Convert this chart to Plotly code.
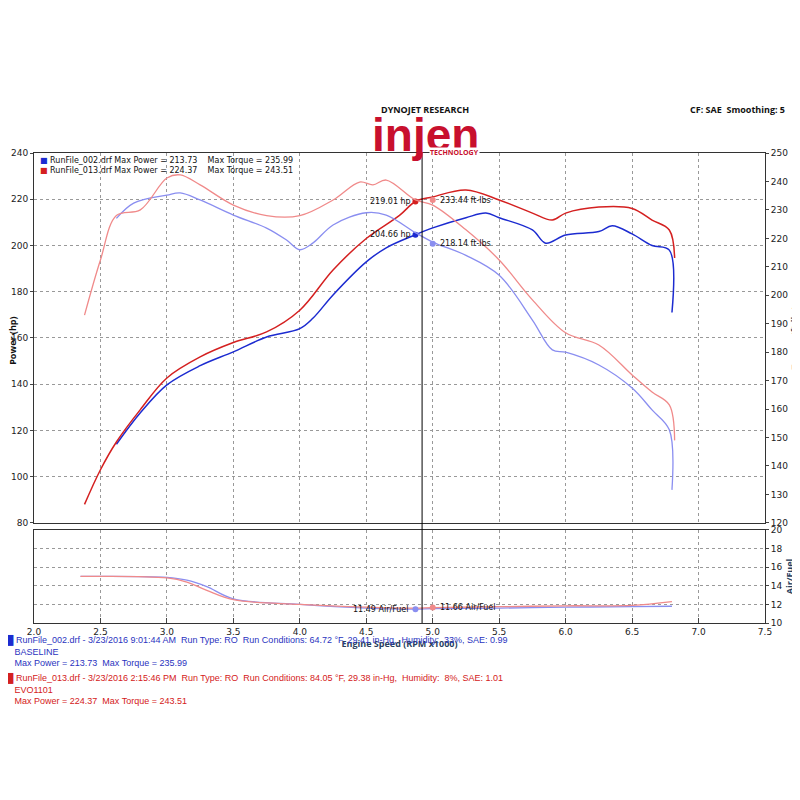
import plotly.graph_objects as go

# run 002 (baseline) power / torque
base_rpm = [2.62, 2.8, 3.0, 3.25, 3.5, 3.75, 4.0, 4.1, 4.25, 4.5, 4.65, 4.87, 5.0, 5.25, 5.4, 5.5, 5.75, 5.85, 6.0, 6.25, 6.35, 6.5, 6.65, 6.78, 6.8]
base_hp = [114, 127.6, 139.7, 148, 154, 160.4, 164, 168.6, 178.6, 192.9, 199, 204.66, 207.6, 212, 214, 212, 206.7, 201, 204.5, 206, 208.5, 205, 200, 198, 171]
base_tq_rpm = [2.62, 2.75, 3.0, 3.1, 3.25, 3.5, 3.75, 3.9, 4.0, 4.1, 4.25, 4.5, 4.65, 4.87, 5.0, 5.25, 5.5, 5.75, 5.9, 6.0, 6.25, 6.5, 6.65, 6.78, 6.8]
base_tq = [227, 232.4, 235.2, 236, 233.5, 228.2, 223.6, 219.4, 216, 218.4, 224.7, 229, 228.2, 222, 218.7, 214, 207, 191.3, 180.8, 180, 175.5, 167.4, 159.7, 152.7, 131.6]

# run 013 (EVO1101) power / torque
evo_rpm = [2.38, 2.5, 2.62, 2.8, 3.0, 3.25, 3.5, 3.75, 4.0, 4.25, 4.5, 4.75, 4.87, 5.0, 5.25, 5.5, 5.75, 5.9, 6.0, 6.25, 6.5, 6.65, 6.78, 6.82]
evo_hp = [88, 103, 115, 129, 142.7, 151.8, 158, 162.6, 172, 189.4, 203, 213, 219.01, 221, 224, 219.7, 214, 211, 214, 216.6, 216, 211, 206.7, 194.6]
evo_tq_rpm = [2.38, 2.5, 2.62, 2.8, 3.0, 3.1, 3.25, 3.5, 3.75, 4.0, 4.25, 4.45, 4.55, 4.65, 4.87, 5.0, 5.25, 5.5, 5.75, 6.0, 6.25, 6.5, 6.65, 6.78, 6.82]
evo_tq = [193, 212.4, 228, 230, 241.2, 242.3, 238.8, 231.7, 228, 228, 233.5, 239.8, 238.8, 240.5, 233.5, 231.7, 223, 212.4, 198.4, 186.8, 182.5, 172, 166, 161.5, 149]

# air/fuel
afr_rpm = [2.35, 3.0, 3.15, 3.3, 3.5, 4.0, 4.5, 4.87, 5.0, 5.5, 6.0, 6.5, 6.8]
base_afr = [15.0, 14.9, 14.6, 13.9, 12.6, 12.0, 11.6, 11.49, 11.55, 11.6, 11.7, 11.75, 11.8]
evo_afr = [15.0, 14.85, 14.4, 13.5, 12.5, 12.0, 11.7, 11.6, 11.66, 11.75, 11.85, 11.9, 12.3]

# cursor readings
cur_hp_rpm = [4.87, 4.87]
cur_hp = [204.66, 219.01]
cur_tq_rpm = [5.0, 5.0]
cur_tq = [218.14, 233.44]
cur_afr_rpm = [4.87, 5.0]
cur_afr = [11.49, 11.66]

x_ticks = [2.0, 2.5, 3.0, 3.5, 4.0, 4.5, 5.0, 5.5, 6.0, 6.5, 7.0, 7.5]

BLUE, RED = "#1c2bd0", "#d42020"
LBLUE, LRED = "#8a8ef0", "#f08a8a"


def line(x, y, c, w, **kw):
    return go.Scatter(x=x, y=y, mode="lines", line=dict(color=c, width=w, shape="spline"), **kw)


fig = go.Figure()
fig.add_trace(line(base_tq_rpm, base_tq, LBLUE, 1.3, yaxis="y2"))
fig.add_trace(line(evo_tq_rpm, evo_tq, LRED, 1.3, yaxis="y2"))
fig.add_trace(line(base_rpm, base_hp, BLUE, 1.5))
fig.add_trace(line(evo_rpm, evo_hp, RED, 1.5))
fig.add_trace(line(afr_rpm, base_afr, LBLUE, 1.3, xaxis="x2", yaxis="y3"))
fig.add_trace(line(afr_rpm, evo_afr, LRED, 1.3, xaxis="x2", yaxis="y3"))

fig.add_trace(go.Scatter(x=cur_hp_rpm, y=cur_hp, mode="markers", marker=dict(size=6, color=[BLUE, RED])))
fig.add_trace(go.Scatter(x=cur_tq_rpm, y=cur_tq, yaxis="y2", mode="markers", marker=dict(size=6, color=[LBLUE, LRED])))
fig.add_trace(go.Scatter(x=cur_afr_rpm, y=cur_afr, xaxis="x2", yaxis="y3", mode="markers",
                         marker=dict(size=6, color=[LBLUE, LRED])))

grid = dict(showgrid=True, gridcolor="#999", griddash="dot", gridwidth=1)
tickf = dict(size=9, family="DejaVu Sans", color="#222")
fig.update_layout(
    width=800, height=800, showlegend=False, plot_bgcolor="white", paper_bgcolor="white",
    margin=dict(l=26, r=43, t=145, b=185),
    xaxis=dict(range=[2.0, 7.5], domain=[0, 1], tickvals=x_ticks, showticklabels=False, anchor="y",
               showline=True, linecolor="#333", mirror=True, **grid),
    yaxis=dict(range=[80, 240], domain=[0.213, 1], dtick=20, tickfont=tickf, showline=True, linecolor="#333",
               mirror=True, ticks="outside", ticklen=3, automargin=False, **grid),
    yaxis2=dict(range=[120, 250], overlaying="y", side="right", dtick=10, tickfont=tickf, showgrid=False,
                ticks="outside", ticklen=3, automargin=False,
                title=dict(text="<b>Torque (ft-lbs)</b>", font=dict(size=9), standoff=0)),
    xaxis2=dict(range=[2.0, 7.5], domain=[0, 1], anchor="y3", tickvals=x_ticks, tickformat=".1f",
                tickfont=tickf, showline=True, linecolor="#333", mirror=True, ticks="inside", automargin=False, **grid,
                title=dict(text="<b>Engine Speed (RPM x1000)</b>", font=dict(size=9), standoff=0)),
    yaxis3=dict(range=[10, 20], domain=[0, 0.198], side="right", anchor="x2", dtick=2, tickfont=tickf,
                showline=True, linecolor="#333", mirror=True, ticks="outside", ticklen=3, automargin=False, **grid,
                title=dict(text="<b>Air/Fuel</b>", font=dict(size=9), standoff=0)),
)
fig.add_annotation(x=-0.042, y=0.6, xref="paper", yref="paper", text="<b>Power (hp)</b>", textangle=-90,
                   showarrow=False, font=dict(size=9, color="#111"))

# cursor line
fig.add_shape(type="line", xref="x", yref="paper", x0=4.92, x1=4.92, y0=0, y1=1.0, line=dict(color="black", width=1))

lab = dict(size=8, color="#111", family="DejaVu Sans")
fig.add_annotation(x=4.85, y=219.01, text="219.01 hp", showarrow=False, xanchor="right", font=lab)
fig.add_annotation(x=4.85, y=204.66, text="204.66 hp", showarrow=False, xanchor="right", font=lab)
fig.add_annotation(x=5.04, y=233.44, yref="y2", text="233.44 ft-lbs", showarrow=False, xanchor="left", font=lab)
fig.add_annotation(x=5.04, y=218.14, yref="y2", text="218.14 ft-lbs", showarrow=False, xanchor="left", font=lab)
fig.add_annotation(x=4.84, y=11.49, xref="x2", yref="y3", text="11.49 Air/Fuel", showarrow=False, xanchor="right", font=lab)
fig.add_annotation(x=5.04, y=11.66, xref="x2", yref="y3", text="11.66 Air/Fuel", showarrow=False, xanchor="left", font=lab)

# legend inside plot
fig.add_annotation(x=0.005, y=0.997, xref="paper", yref="paper", xanchor="left", yanchor="top", showarrow=False, align="left",
                   text="<span style='color:#1c2bd0'>■</span> RunFile_002.drf Max Power = 213.73    Max Torque = 235.99<br>"
                        "<span style='color:#d42020'>■</span> RunFile_013.drf Max Power = 224.37    Max Torque = 243.51",
                   font=dict(size=8, color="#111", family="DejaVu Sans"))

# header
fig.add_annotation(x=0.535, y=1.11, xref="paper", yref="paper", text="<b>DYNOJET RESEARCH</b>", showarrow=False,
                   font=dict(size=9, color="#111"))
fig.add_annotation(x=0.535, y=1.098, xref="paper", yref="paper", text="<b>injen</b>", showarrow=False, yanchor="top",
                   font=dict(size=46, color="#c8102e", family="Liberation Sans"))
fig.add_annotation(x=0.575, y=1.012, xref="paper", yref="paper", text="<b>TECHNOLOGY</b>", showarrow=False,
                   bgcolor="white", borderpad=0, font=dict(size=7, color="#c8102e"))
fig.add_annotation(x=1.03, y=1.11, xref="paper", yref="paper", xanchor="right", text="<b>CF: SAE  Smoothing: 5</b>",
                   showarrow=False, font=dict(size=9, color="#111"))

# run info block
fig.add_annotation(x=-0.04, y=-0.02, xref="paper", yref="paper", xanchor="left", yanchor="top", showarrow=False, align="left",
                   text="<span style='color:#1c2bd0'>█</span> RunFile_002.drf - 3/23/2016 9:01:44 AM  Run Type: RO  Run Conditions: 64.72 °F, 29.41 in-Hg,  Humidity:  33%, SAE: 0.99<br>"
                        "   BASELINE<br>   Max Power = 213.73  Max Torque = 235.99",
                   font=dict(size=9, color="#2a33c0", family="Liberation Sans"))
fig.add_annotation(x=-0.04, y=-0.1, xref="paper", yref="paper", xanchor="left", yanchor="top", showarrow=False, align="left",
                   text="<span style='color:#d42020'>█</span> RunFile_013.drf - 3/23/2016 2:15:46 PM  Run Type: RO  Run Conditions: 84.05 °F, 29.38 in-Hg,  Humidity:  8%, SAE: 1.01<br>"
                        "   EVO1101<br>   Max Power = 224.37  Max Torque = 243.51",
                   font=dict(size=9, color="#d42020", family="Liberation Sans"))

fig.write_html("out.html")
